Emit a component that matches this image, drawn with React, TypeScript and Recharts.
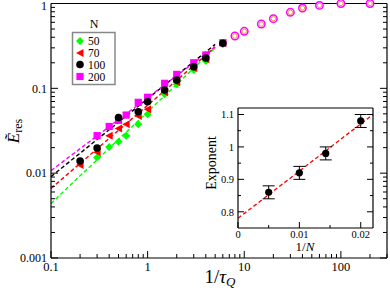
import React from "react";
import { ComposedChart, Scatter, Line, XAxis, YAxis, ErrorBar } from "recharts";

const FONT = '"Liberation Serif", "DejaVu Serif", serif';

// main panel: residual energy vs 1/tau_Q for each system size N
const rateN50 = [0.3, 0.4, 0.5, 0.6, 0.8, 1, 1.5, 2, 3, 4, 6];
const eresN50 = [0.0153, 0.0203, 0.0235, 0.0276, 0.0376, 0.0494, 0.085, 0.112, 0.164, 0.21, 0.33];
const rateN70 = [0.2, 0.3, 0.4, 0.5, 0.6, 0.8, 1, 1.5, 2, 3, 4, 6];
const eresN70 = [0.0125, 0.0177, 0.0277, 0.0337, 0.0376, 0.0471, 0.0565, 0.09, 0.118, 0.174, 0.22, 0.34];
const rateN100 = [0.2, 0.3, 0.5, 0.8, 1, 1.5, 2, 3, 4, 6];
const eresN100 = [0.0139, 0.0198, 0.0453, 0.053, 0.0695, 0.0955, 0.125, 0.18, 0.228, 0.34];
const rateN200 = [0.3, 0.4, 0.5, 0.6, 0.8, 1, 1.5, 2, 3, 4, 6];
const eresN200 = [0.0277, 0.0355, 0.042, 0.0484, 0.0684, 0.0785, 0.1146, 0.146, 0.2, 0.247, 0.345];

// fast quenches, all sizes on top of each other (open symbols)
const fastRate = [8, 10, 15, 20, 30, 40, 60, 100, 200];
const fastEres = [0.414, 0.47, 0.573, 0.662, 0.787, 0.885, 0.95, 1.0, 1.0];

// power-law fits (dashed), end points
const fitRate = [0.1, 5];
const fitN50 = [0.0044, 0.3];
const fitN70 = [0.0066, 0.306];
const fitN100 = [0.0091, 0.33];
const fitN200 = [0.0107, 0.31];

// inset: fitted exponent vs 1/N
const invN = [0.005, 0.01, 0.0143, 0.02];
const exponent = [0.86, 0.92, 0.98, 1.08];
const exponentErr = [0.02, 0.02, 0.02, 0.02];
const expFitX = [0, 0.022];
const expFitY = [0.78, 1.1];

const xMajors = [0.1, 1, 10, 100];
const yMajors = [0.001, 0.01, 0.1, 1];
const insetXTicks = [0, 0.005, 0.01, 0.015, 0.02];
const insetXMajors = [0, 0.01, 0.02];
const insetYTicks = [0.8, 0.85, 0.9, 0.95, 1, 1.05, 1.1];
const insetYMajors = [0.8, 0.9, 1, 1.1];

const GREEN = "#00ff00";
const RED = "#ff0000";
const MAGENTA = "#ff00ff";

const pts = (xs: number[], ys: number[]) => xs.map((x, i) => ({ x, y: ys[i] }));

function logTicks(lo: number, hi: number) {
  const out: number[] = [];
  for (let d = lo; d < hi * 10; d *= 10) {
    for (let k = 1; k < 10; k++) {
      const v = d * k;
      if (v >= lo * 0.999 && v <= hi * 1.001) out.push(v);
    }
  }
  return out;
}
const xTicks = logTicks(0.1, 300);
const yTicks = logTicks(0.001, 1);

const isMajor = (v: number, majors: number[]) =>
  majors.some((m) => Math.abs(v - m) <= Math.abs(m) * 1e-6 + 1e-9);

function makeTick(side: string, majors: number[], showLabel: boolean, big: number, small: number, fs: number, gap: number) {
  return (props: any) => {
    const { x, y, payload } = props;
    const v = payload.value;
    const major = isMajor(v, majors);
    const len = major ? big : small;
    let line = null;
    let label = null;
    if (side === "bottom") {
      line = <line x1={x} y1={y} x2={x} y2={y - len} stroke="#000" />;
      if (showLabel && major)
        label = (
          <text x={x} y={y + gap} textAnchor="middle" fontSize={fs} fontFamily={FONT} fill="#000">
            {String(+v.toPrecision(6))}
          </text>
        );
    } else if (side === "top") {
      line = <line x1={x} y1={y} x2={x} y2={y + len} stroke="#000" />;
    } else if (side === "left") {
      line = <line x1={x} y1={y} x2={x + len} y2={y} stroke="#000" />;
      if (showLabel && major)
        label = (
          <text x={x - 4} y={Math.max(y + fs * 0.36, 10)} textAnchor="end" fontSize={fs} fontFamily={FONT} fill="#000">
            {String(+v.toPrecision(6))}
          </text>
        );
    } else {
      line = <line x1={x} y1={y} x2={x - len} y2={y} stroke="#000" />;
    }
    return (
      <g>
        {line}
        {label}
      </g>
    );
  };
}

const Diamond = (p: any) => (
  <polygon points={`${p.cx},${p.cy - 4} ${p.cx + 4},${p.cy} ${p.cx},${p.cy + 4} ${p.cx - 4},${p.cy}`} fill={GREEN} />
);
const LeftTri = (p: any) => (
  <polygon points={`${p.cx - 4},${p.cy} ${p.cx + 3.5},${p.cy - 4} ${p.cx + 3.5},${p.cy + 4}`} fill={RED} />
);
const Dot = (p: any) => <circle cx={p.cx} cy={p.cy} r={3.8} fill="#000" />;
const Sq = (p: any) => <rect x={p.cx - 3.6} y={p.cy - 3.6} width={7.2} height={7.2} fill={MAGENTA} />;
const OpenMark = (p: any) => (
  <g>
    <circle cx={p.cx} cy={p.cy} r={3.7} fill="#fff" stroke={MAGENTA} strokeWidth={1.5} />
    <circle cx={p.cx} cy={p.cy} r={2.2} fill="#fff" stroke="#e89a3a" strokeWidth={1} />
  </g>
);
const InsetDot = (p: any) => <circle cx={p.cx} cy={p.cy} r={3.6} fill="#000" />;

const axisLine = { stroke: "#000", strokeWidth: 1.2 };

export default function App() {
  const fits = [
    { d: pts(fitRate, fitN50), c: GREEN },
    { d: pts(fitRate, fitN70), c: RED },
    { d: pts(fitRate, fitN100), c: "#000" },
    { d: pts(fitRate, fitN200), c: MAGENTA },
  ];
  return (
    <div style={{ position: "absolute", left: 0, top: 0, width: 390, height: 291, background: "#fff" }}>
      <ComposedChart width={390} height={291} margin={{ top: 2.5, right: 2, bottom: 32, left: 50 }}>
        <XAxis
          dataKey="x"
          type="number"
          scale="log"
          domain={[0.1, 300]}
          ticks={xTicks}
          interval={0}
          height={1}
          tickSize={0}
          tickMargin={0}
          tickLine={false}
          axisLine={axisLine}
          tick={makeTick("bottom", xMajors, true, 7, 4, 12.5, 13)}
        />
        <XAxis
          xAxisId="top"
          orientation="top"
          type="number"
          scale="log"
          domain={[0.1, 300]}
          allowDataOverflow
          ticks={xTicks}
          interval={0}
          height={1}
          tickSize={0}
          tickMargin={0}
          tickLine={false}
          axisLine={axisLine}
          tick={makeTick("top", xMajors, false, 7, 4, 12.5, 13)}
        />
        <YAxis
          dataKey="y"
          type="number"
          scale="log"
          domain={[0.001, 1]}
          ticks={yTicks}
          interval={0}
          width={1}
          tickSize={0}
          tickMargin={0}
          tickLine={false}
          axisLine={axisLine}
          tick={makeTick("left", yMajors, true, 7, 4, 12, 0)}
        />
        <YAxis
          yAxisId="right"
          orientation="right"
          type="number"
          scale="log"
          domain={[0.001, 1]}
          allowDataOverflow
          ticks={yTicks}
          interval={0}
          width={1}
          tickSize={0}
          tickMargin={0}
          tickLine={false}
          axisLine={axisLine}
          tick={makeTick("right", yMajors, false, 7, 4, 12, 0)}
        />
        <Scatter data={pts(rateN50, eresN50)} dataKey="y" shape={Diamond} isAnimationActive={false} />
        <Scatter data={pts(rateN70, eresN70)} dataKey="y" shape={LeftTri} isAnimationActive={false} />
        <Scatter data={pts(rateN200, eresN200)} dataKey="y" shape={Sq} isAnimationActive={false} />
        <Scatter data={pts(rateN100, eresN100)} dataKey="y" shape={Dot} isAnimationActive={false} />
        <Scatter data={pts(fastRate, fastEres)} dataKey="y" shape={OpenMark} isAnimationActive={false} />
        {fits.map((f, i) => (
          <Line
            key={i}
            data={f.d}
            dataKey="y"
            type="linear"
            stroke={f.c}
            strokeWidth={1.4}
            strokeDasharray="4 2.5"
            dot={false}
            isAnimationActive={false}
          />
        ))}
      </ComposedChart>

      {/* inset */}
      <div style={{ position: "absolute", left: 195, top: 100 }}>
        <ComposedChart width={183} height={155} margin={{ top: 7, right: 4, bottom: 26, left: 42 }}>
          <XAxis
            dataKey="x"
            type="number"
            domain={[0, 0.022]}
            allowDataOverflow
            ticks={insetXTicks}
            interval={0}
            height={1}
            tickSize={0}
            tickMargin={0}
            tickLine={false}
            axisLine={axisLine}
            tick={makeTick("bottom", insetXMajors, true, 6, 3, 10.5, 9.5)}
          />
          <XAxis
            xAxisId="top"
            orientation="top"
            type="number"
            domain={[0, 0.022]}
            allowDataOverflow
            ticks={insetXTicks}
            interval={0}
            height={1}
            tickSize={0}
            tickMargin={0}
            tickLine={false}
            axisLine={axisLine}
            tick={makeTick("top", insetXMajors, false, 6, 3, 10.5, 0)}
          />
          <YAxis
            dataKey="y"
            type="number"
            domain={[0.75, 1.12]}
            allowDataOverflow
            ticks={insetYTicks}
            interval={0}
            width={1}
            tickSize={0}
            tickMargin={0}
            tickLine={false}
            axisLine={axisLine}
            tick={makeTick("left", insetYMajors, true, 6, 3, 10.5, 0)}
          />
          <YAxis
            yAxisId="right"
            orientation="right"
            type="number"
            domain={[0.75, 1.12]}
            allowDataOverflow
            ticks={insetYTicks}
            interval={0}
            width={1}
            tickSize={0}
            tickMargin={0}
            tickLine={false}
            axisLine={axisLine}
            tick={makeTick("right", insetYMajors, false, 6, 3, 10.5, 0)}
          />
          <Line
            data={pts(expFitX, expFitY)}
            dataKey="y"
            type="linear"
            stroke={RED}
            strokeWidth={1.3}
            strokeDasharray="4 2.5"
            dot={false}
            isAnimationActive={false}
          />
          <Scatter
            data={invN.map((x, i) => ({ x, y: exponent[i], err: exponentErr[i] }))}
            dataKey="y"
            shape={InsetDot}
            isAnimationActive={false}
          >
            <ErrorBar dataKey="err" direction="y" width={6} stroke="#000" strokeWidth={1} />
          </Scatter>
        </ComposedChart>
      </div>

      <svg width={390} height={291} style={{ position: "absolute", left: 0, top: 0, pointerEvents: "none" }}>
        {/* legend */}
        <text x={94} y={28} textAnchor="middle" fontSize={12} fontFamily={FONT}>N</text>
        <rect x={72.5} y={32.5} width={42.5} height={52} fill="#fff" stroke="#888" strokeWidth={1.5} />
        <Diamond cx={80} cy={41} />
        <LeftTri cx={80} cy={53} />
        <Dot cx={80} cy={64.5} />
        <Sq cx={80} cy={76.5} />
        <text x={88} y={45} fontSize={11.5} fontFamily={FONT}>50</text>
        <text x={88} y={57} fontSize={11.5} fontFamily={FONT}>70</text>
        <text x={88} y={68.5} fontSize={11.5} fontFamily={FONT}>100</text>
        <text x={88} y={80.5} fontSize={11.5} fontFamily={FONT}>200</text>

        {/* axis titles */}
        <text transform="translate(19,131) rotate(-90)" textAnchor="middle" fontSize={17} fontFamily={FONT}>
          <tspan fontStyle="italic">{"\u1EBC"}</tspan>
          <tspan fontSize={12} dy={3}>res</tspan>
        </text>
        <text x={220} y={283} textAnchor="middle" fontSize={19} fontFamily={FONT}>
          1/<tspan fontStyle="italic">τ</tspan>
          <tspan fontStyle="italic" fontSize={13} dy={3}>Q</tspan>
        </text>
        <text transform="translate(216,163) rotate(-90)" textAnchor="middle" fontSize={14} fontFamily={FONT}>
          Exponent
        </text>
        <text x={305} y={251} textAnchor="middle" fontSize={13} fontFamily={FONT}>
          1/<tspan fontStyle="italic">N</tspan>
        </text>
      </svg>
    </div>
  );
}
